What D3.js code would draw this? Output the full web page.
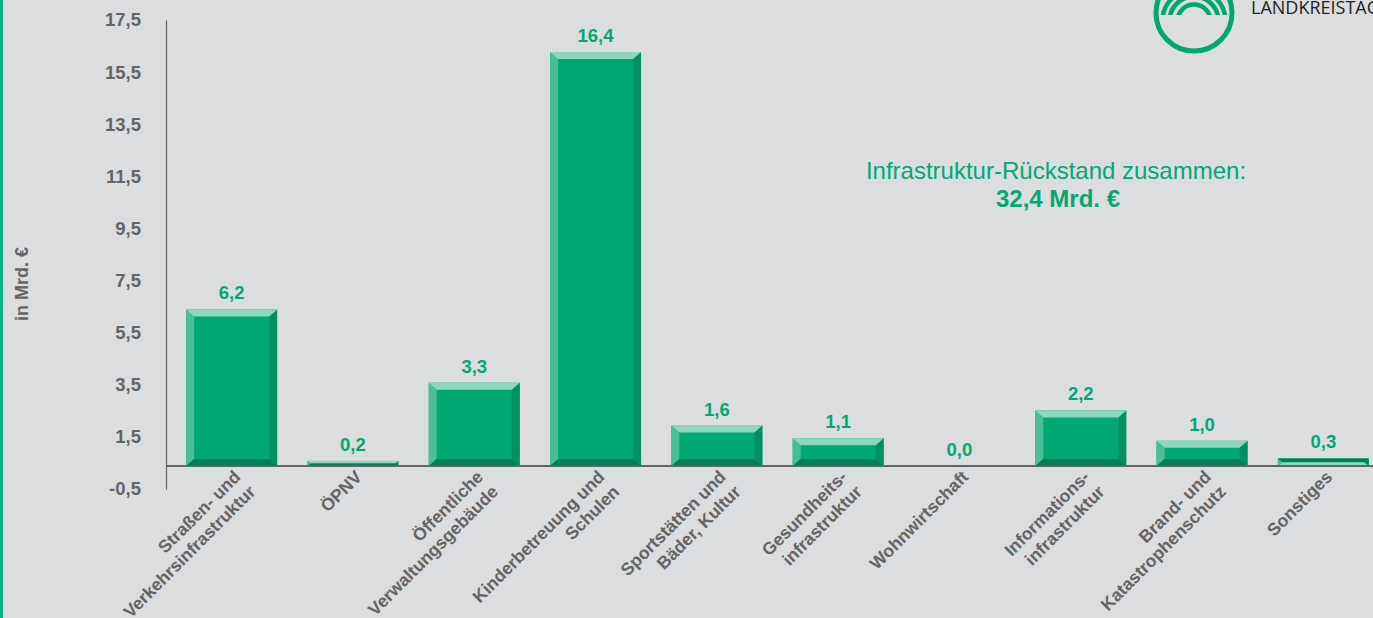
<!DOCTYPE html>
<html>
<head>
<meta charset="utf-8">
<script src="https://cdn.jsdelivr.net/npm/d3@7"></script>
<style>
  body { margin: 0; background: #dcdddf; overflow: hidden; }
  text { font-family: "Liberation Sans", Arial, sans-serif; }
</style>
</head>
<body>
<div id="chart"></div>
<script>
// Daten
const categories = [
  "Straßen- und\nVerkehrsinfrastruktur",
  "ÖPNV",
  "Öffentliche\nVerwaltungsgebäude",
  "Kinderbetreuung und\nSchulen",
  "Sportstätten und\nBäder, Kultur",
  "Gesundheits-\ninfrastruktur",
  "Wohnwirtschaft",
  "Informations-\ninfrastruktur",
  "Brand- und\nKatastrophenschutz",
  "Sonstiges"
];
const values = [6.2, 0.2, 3.3, 16.4, 1.6, 1.1, 0.0, 2.2, 1.0, 0.3];
const yTicks = [-0.5, 1.5, 3.5, 5.5, 7.5, 9.5, 11.5, 13.5, 15.5, 17.5];
const yTitle = "in Mrd. €";
const totalText = "Infrastruktur-Rückstand zusammen:";
const totalValue = "32,4 Mrd. €";

// Farben
const green = "#00a874",
      bevelTop = "#8dd8bd",
      bevelLeft = "#4abf95",
      bevelRight = "#009062",
      bevelBottom = "#007f56",
      grey = "#646464";

const width = 1373, height = 618;

const de = d3.formatLocale({ decimal: ",", thousands: ".", grouping: [3], currency: ["", " €"], minus: "-" });
const fmt = de.format(".1f");

const svg = d3.select("#chart")
  .append("svg")
    .attr("width", width)
    .attr("height", height);

svg.append("rect").attr("width", width).attr("height", height).attr("fill", "#dcdddf");
svg.append("rect").attr("width", 3).attr("height", height).attr("fill", "#00b482");

// Skalen
const x = d3.scaleBand()
  .domain(categories)
  .range([171, 1384])
  .paddingInner(0.25)
  .paddingOuter(0.125);

// Balken-Skala (0-Linie bei 466)
const y = d3.scaleLinear().domain([0, 16.4]).range([466, 52]);
// die Achsenbeschriftung sitzt im Original etwas versetzt zur Balkenskala
const yAxisScale = d3.scaleLinear().domain([-0.5, 17.5]).range([489, 20]);

// Y-Achse
const yAxis = svg.append("g")
  .attr("transform", "translate(166,0)")
  .call(d3.axisLeft(yAxisScale)
    .tickValues(yTicks)
    .tickSize(0)
    .tickPadding(25)
    .tickFormat(d => fmt(d)));
yAxis.select(".domain").attr("stroke", grey).attr("stroke-width", 1.2);
yAxis.selectAll("text")
  .attr("fill", grey)
  .style("font-size", "18.5px")
  .style("font-weight", "bold");

svg.append("text")
  .attr("transform", "translate(28,284) rotate(-90)")
  .attr("text-anchor", "middle")
  .attr("fill", grey)
  .style("font-size", "18px")
  .style("font-weight", "bold")
  .text(yTitle);

// Balken mit Fase
const data = categories.map((c, i) => ({ cat: c, val: values[i] }));

function drawBar(g, d) {
  const x0 = x(d.cat), x1 = x0 + x.bandwidth();
  const y1 = y(0), y0 = y(d.val);
  const h = y1 - y0;
  if (h <= 0) return;
  const bv = Math.min(7, h / 2), bh = Math.min(8, h / 2 + 1);
  const flip = d.cat === "Sonstiges";
  const pts = a => a.map(p => p.join(",")).join(" ");

  g.append("rect")
    .attr("x", x0).attr("y", y0)
    .attr("width", x1 - x0).attr("height", h)
    .attr("fill", green);
  g.append("polygon") // links
    .attr("points", pts([[x0, y0], [x0 + bh, y0 + bv], [x0 + bh, y1 - bv], [x0, y1]]))
    .attr("fill", bevelLeft);
  g.append("polygon") // rechts
    .attr("points", pts([[x1, y0], [x1 - bh, y0 + bv], [x1 - bh, y1 - bv], [x1, y1]]))
    .attr("fill", bevelRight);
  g.append("polygon") // oben
    .attr("points", pts([[x0, y0], [x1, y0], [x1 - bh, y0 + bv], [x0 + bh, y0 + bv]]))
    .attr("fill", flip ? bevelBottom : bevelTop);
  g.append("polygon") // unten
    .attr("points", pts([[x0, y1], [x1, y1], [x1 - bh, y1 - bv], [x0 + bh, y1 - bv]]))
    .attr("fill", flip ? bevelTop : bevelBottom);
}

const bars = svg.append("g");
data.forEach(d => drawBar(bars.append("g"), d));

// Nulllinie
svg.append("line")
  .attr("x1", 166).attr("x2", width)
  .attr("y1", y(0)).attr("y2", y(0))
  .attr("stroke", grey)
  .attr("stroke-width", 2.2);

// Werte
svg.selectAll("text.value")
  .data(data)
  .enter()
  .append("text")
    .attr("class", "value")
    .attr("x", d => x(d.cat) + x.bandwidth() / 2)
    .attr("y", d => y(d.val) - 10)
    .attr("text-anchor", "middle")
    .attr("fill", green)
    .style("font-size", "18.5px")
    .style("font-weight", "bold")
    .text(d => fmt(d.val));

// Kategorien (45° gedreht)
const labels = svg.selectAll("g.xlabel")
  .data(data)
  .enter()
  .append("g")
    .attr("class", "xlabel")
    .attr("transform", d => `translate(${x(d.cat) + x.bandwidth() / 2 + 10},${y(0) + 12}) rotate(-45)`);

labels.append("text")
  .attr("text-anchor", "end")
  .attr("fill", grey)
  .style("font-size", "17.5px")
  .style("font-weight", "bold")
  .selectAll("tspan")
  .data(d => d.cat.split("\n"))
  .enter()
  .append("tspan")
    .attr("x", 0)
    .attr("dy", (t, i) => i === 0 ? 0 : "1.2em")
    .text(t => t);

// Summe
svg.append("text")
  .attr("x", 1056).attr("y", 179)
  .attr("text-anchor", "middle")
  .attr("fill", green)
  .style("font-size", "24px")
  .text(totalText);
svg.append("text")
  .attr("x", 1058).attr("y", 207)
  .attr("text-anchor", "middle")
  .attr("fill", green)
  .style("font-size", "24px")
  .style("font-weight", "bold")
  .text(totalValue);

// Logo
const logo = svg.append("g");
logo.append("clipPath").attr("id", "arcClip")
  .append("rect").attr("x", 1140).attr("y", -10).attr("width", 110).attr("height", 25);
logo.append("circle")
  .attr("cx", 1194).attr("cy", 13).attr("r", 38)
  .attr("fill", "none").attr("stroke", "#00a870").attr("stroke-width", 5);
[16.5, 24.5, 31.5].forEach(r => {
  logo.append("circle")
    .attr("cx", 1194).attr("cy", 21).attr("r", r)
    .attr("clip-path", "url(#arcClip)")
    .attr("fill", "none").attr("stroke", "#00a870").attr("stroke-width", 4.5);
});
logo.append("text")
  .attr("x", 1251).attr("y", 14)
  .attr("fill", "#231f20")
  .style("font-family", "'Open Sans', sans-serif")
  .style("font-size", "18px")
  .text("LANDKREISTAG");
</script>
</body>
</html>
